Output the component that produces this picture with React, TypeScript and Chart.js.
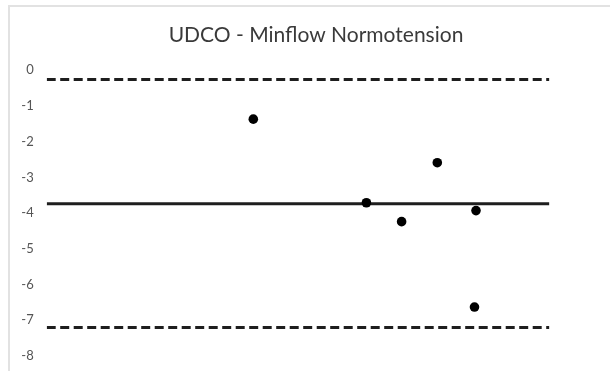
import React, { useEffect, useRef } from "react";
import { Chart, registerables } from "chart.js";

Chart.register(...registerables);

const titleText = "UDCO - Minflow Normotension";
const xRange = [0, 100];
const pointX = [41.1, 63.6, 70.6, 77.7, 85.4, 85.1];
const pointY = [-1.37, -3.71, -4.24, -2.59, -3.93, -6.63];
const meanLine = -3.74;
const upperLimit = -0.26;
const lowerLimit = -7.2;
const yTicks = [0, -1, -2, -3, -4, -5, -6, -7, -8];

export default function App() {
  const ref = useRef<HTMLCanvasElement | null>(null);
  useEffect(() => {
    document.body.style.margin = "0";
    const ctx = ref.current!;
    const hline = (y: number) => xRange.map((x) => ({ x, y }));
    const noPad = (s: any) => {
      s.paddingTop = 0;
      s.paddingBottom = 0;
    };
    const chart = new Chart(ctx, {
      type: "scatter",
      data: {
        datasets: [
          {
            label: "points",
            data: pointX.map((x, i) => ({ x, y: pointY[i] })),
            pointRadius: 4.8,
            pointBackgroundColor: "#000",
            pointBorderWidth: 0,
            showLine: false,
          },
          {
            label: "mean",
            data: hline(meanLine),
            showLine: true,
            borderColor: "#1e1e1e",
            borderWidth: 3,
            pointRadius: 0,
          },
          {
            label: "upper",
            data: hline(upperLimit),
            showLine: true,
            borderColor: "#1e1e1e",
            borderWidth: 3,
            borderDash: [9, 4.5],
            pointRadius: 0,
          },
          {
            label: "lower",
            data: hline(lowerLimit),
            showLine: true,
            borderColor: "#1e1e1e",
            borderWidth: 3,
            borderDash: [9, 4.5],
            pointRadius: 0,
          },
        ],
      },
      options: {
        animation: false,
        responsive: false,
        layout: { padding: { left: 22, right: 0, top: 0, bottom: 15 } },
        plugins: {
          legend: { display: false },
          tooltip: { enabled: false },
          title: {
            display: true,
            text: titleText,
            color: "#3a3a3a",
            font: { family: "Lato", size: 21, weight: "normal" },
            padding: { top: 23, bottom: 22 },
          },
        },
        scales: {
          x: { type: "linear", min: xRange[0], max: xRange[1], display: false },
          y: {
            min: -8,
            max: 0,
            afterFit: (s: any) => {
              s.width = 24.7;
              noPad(s);
            },
            afterBuildTicks: (s: any) => {
              s.ticks = yTicks.map((v) => ({ value: v }));
            },
            grid: { display: false, drawTicks: false },
            border: { display: false },
            ticks: {
              padding: 13,
              color: "#555555",
              font: { family: "Lato", size: 13 },
              callback: (v: any) => String(v),
            },
          },
          yRight: {
            position: "right",
            min: -8,
            max: 0,
            afterFit: (s: any) => {
              s.width = 60.6;
              noPad(s);
            },
            grid: { display: false, drawTicks: false },
            border: { display: false },
            ticks: { display: false },
          },
        },
      },
    });
    return () => chart.destroy();
  }, []);
  return (
    <div style={{ position: "relative", width: 610, height: 371, overflow: "hidden", background: "#fff" }}>
      <div
        style={{
          position: "absolute",
          left: 8,
          top: 5,
          width: 700,
          height: 500,
          borderLeft: "2px solid #e2e2e2",
          borderTop: "2px solid #e2e2e2",
        }}
      />
      <canvas ref={ref} width={610} height={371} style={{ position: "absolute", left: 0, top: 0 }} />
    </div>
  );
}
